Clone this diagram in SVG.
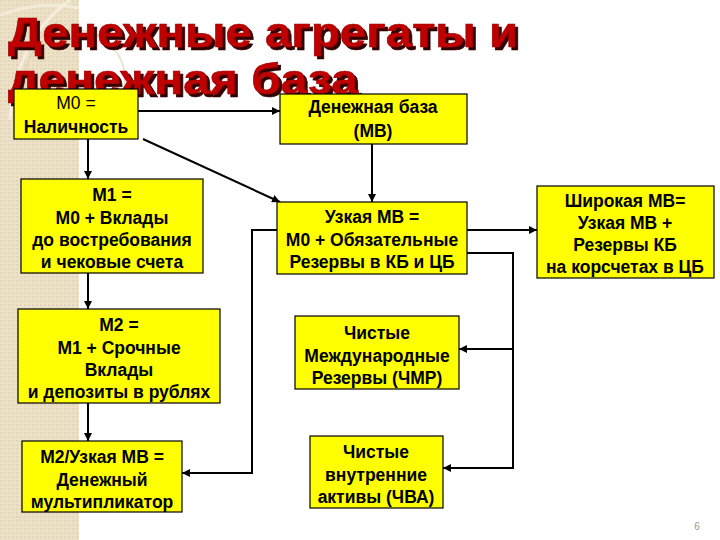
<svg xmlns="http://www.w3.org/2000/svg" width="720" height="540" viewBox="0 0 720 540">
<defs>
<style>
.box{fill:#ffff00;stroke:#000;stroke-width:1.2}
.t{font-family:"Liberation Sans",Arial,sans-serif;font-size:17.5px;font-weight:bold;fill:#000;text-anchor:middle}
.n{font-weight:normal}
.title{font-family:"Liberation Sans",Arial,sans-serif;font-size:42px;font-weight:bold;fill:#c00000;stroke:#a00000;stroke-width:0.6}
.ln{fill:none;stroke:#000;stroke-width:2}
</style>
<filter id="sh" x="-5%" y="-20%" width="110%" height="140%">
<feOffset in="SourceAlpha" dx="2.5" dy="2.5" result="o"/>
<feFlood flood-color="#300000"/>
<feComposite in2="o" operator="in" result="s"/>
<feMerge><feMergeNode in="s"/><feMergeNode in="SourceGraphic"/></feMerge>
</filter>
<marker id="ah" viewBox="0 0 10 10" refX="10" refY="5" markerWidth="4" markerHeight="4" orient="auto" markerUnits="strokeWidth">
<path d="M0,0 L10,5 L0,10 z" fill="#000"/>
</marker>
<pattern id="tex" width="4" height="4" patternUnits="userSpaceOnUse">
<rect width="4" height="4" fill="#ece0c6"/>
<rect width="2" height="2" fill="#e4d6b8"/>
</pattern>
</defs>
<rect width="720" height="540" fill="#fff"/>
<g id="background">
<rect x="0" y="0" width="79" height="540" fill="url(#tex)"/>
<path d="M0,15 Q40,0 79,8" fill="none" stroke="#f3ebda" stroke-width="3"/>
<path d="M10,120 Q15,40 70,0" fill="none" stroke="#f5eedf" stroke-width="3"/>
<circle cx="75" cy="80" r="50" fill="none" stroke="#e0d0ae" stroke-width="2" opacity="0.6"/>
</g>
<g id="title" filter="url(#sh)">
<text class="title" x="8" y="47" textLength="510" lengthAdjust="spacingAndGlyphs">Денежные агрегаты и</text>
<text class="title" x="8" y="94" textLength="350" lengthAdjust="spacingAndGlyphs">денежная база</text>
</g>
<g id="connectors">
<line class="ln" x1="138" y1="111" x2="280" y2="111" marker-end="url(#ah)"/>
<line class="ln" x1="143" y1="139" x2="280" y2="202" marker-end="url(#ah)"/>
<line class="ln" x1="88" y1="139" x2="88" y2="179" marker-end="url(#ah)"/>
<line class="ln" x1="88" y1="273" x2="88" y2="309" marker-end="url(#ah)"/>
<line class="ln" x1="88" y1="403" x2="88" y2="441" marker-end="url(#ah)"/>
<line class="ln" x1="372" y1="144" x2="372" y2="202" marker-end="url(#ah)"/>
<line class="ln" x1="467" y1="230" x2="537" y2="230" marker-end="url(#ah)"/>
<polyline class="ln" points="467,253 513,253 513,468 443,468" marker-end="url(#ah)"/>
<line class="ln" x1="513" y1="349" x2="459" y2="349" marker-end="url(#ah)"/>
<polyline class="ln" points="277,230 252,230 252,473 182,473" marker-end="url(#ah)"/>
</g>
<g id="m0">
<rect class="box" x="14" y="89" width="124" height="50"/>
<text class="t n" x="76" y="109">M0 =</text>
<text class="t" x="76" y="133">Наличность</text>
</g>
<g id="mb">
<rect class="box" x="280" y="94" width="187" height="50"/>
<text class="t" x="373" y="113">Денежная база</text>
<text class="t" x="373" y="137">(МВ)</text>
</g>
<g id="m1">
<rect class="box" x="21" y="179" width="182" height="94"/>
<text class="t" x="112" y="201">M1 =</text>
<text class="t" x="112" y="224">M0 + Вклады</text>
<text class="t" x="112" y="246">до востребования</text>
<text class="t" x="112" y="268">и чековые счета</text>
</g>
<g id="narrow-mb">
<rect class="box" x="277" y="202" width="190" height="72"/>
<text class="t" x="372" y="223">Узкая МВ =</text>
<text class="t" x="372" y="246">M0 + Обязательные</text>
<text class="t" x="372" y="268">Резервы в КБ и ЦБ</text>
</g>
<g id="broad-mb">
<rect class="box" x="537" y="186" width="177" height="92"/>
<text class="t" x="625" y="207">Широкая МВ=</text>
<text class="t" x="625" y="229">Узкая МВ +</text>
<text class="t" x="625" y="251">Резервы КБ</text>
<text class="t" x="625" y="273">на корсчетах в ЦБ</text>
</g>
<g id="m2">
<rect class="box" x="18" y="309" width="202" height="94"/>
<text class="t" x="119" y="331">M2 =</text>
<text class="t" x="119" y="354">M1 + Срочные</text>
<text class="t" x="119" y="376">Вклады</text>
<text class="t" x="119" y="398">и депозиты в рублях</text>
</g>
<g id="chmr">
<rect class="box" x="295" y="316" width="164" height="73"/>
<text class="t" x="377" y="339">Чистые</text>
<text class="t" x="377" y="362">Международные</text>
<text class="t" x="377" y="384">Резервы (ЧМР)</text>
</g>
<g id="multiplier">
<rect class="box" x="22" y="441" width="160" height="71"/>
<text class="t" x="102" y="463">M2/Узкая МВ =</text>
<text class="t" x="102" y="486">Денежный</text>
<text class="t" x="102" y="508">мультипликатор</text>
</g>
<g id="chva">
<rect class="box" x="310" y="436" width="133" height="72"/>
<text class="t" x="376" y="458">Чистые</text>
<text class="t" x="376" y="481">внутренние</text>
<text class="t" x="376" y="503">активы (ЧВА)</text>
</g>
<text x="697" y="530" font-family="'Liberation Sans',Arial,sans-serif" font-size="10" fill="#999" text-anchor="middle">6</text>
</svg>
